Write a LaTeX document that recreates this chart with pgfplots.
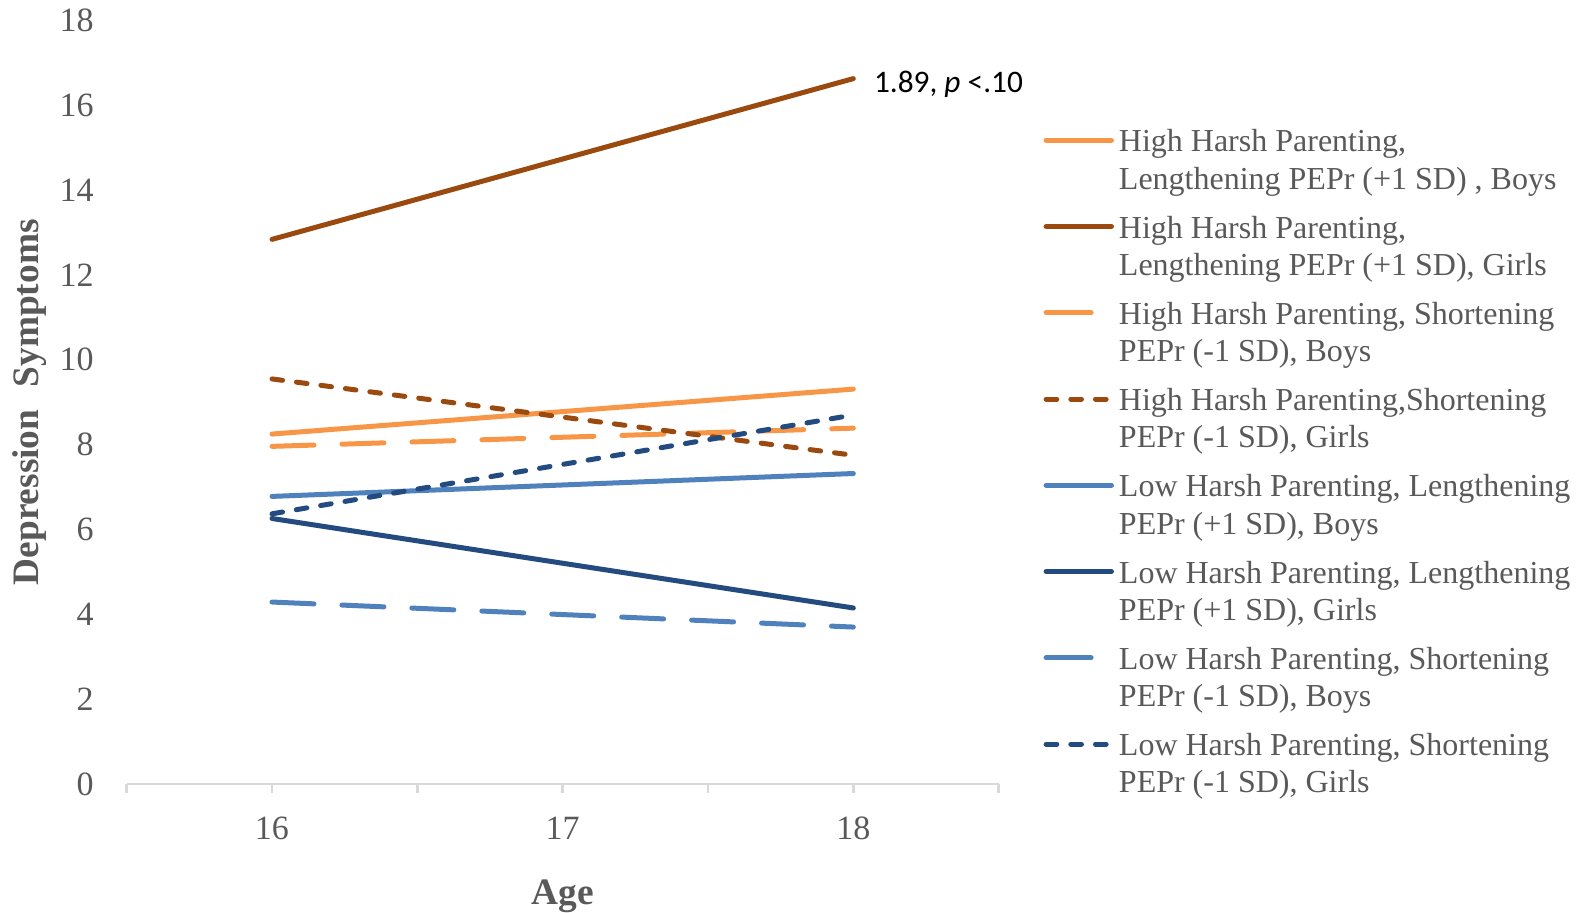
\documentclass[border=0pt]{standalone}
\usepackage{pgfplots}
\pgfplotsset{compat=1.18}
\usepackage{fontspec}
\setmainfont{Liberation Serif}
\newfontfamily\calibri{Carlito}

\definecolor{hhOrange}{HTML}{F79646}
\definecolor{hhBrown}{HTML}{9A4A0E}
\definecolor{lhBlue}{HTML}{4F81BD}
\definecolor{lhNavy}{HTML}{234B7F}
\definecolor{txtGray}{HTML}{595959}
\definecolor{axGray}{HTML}{D9D9D9}

\pgfplotsset{
  longdash/.style={dash pattern=on 12.6pt off 8.4pt},
  shortdash/.style={dash pattern=on 3.2pt off 4.2pt},
  % a long-dash series shows a single dash in the legend
  onedash/.style={legend image code/.code={\draw[##1,solid] (0.75pt,6.5pt) -- (14.25pt,6.5pt);}},
}

\begin{document}
\begin{tikzpicture}
\useasboundingbox (-38.0pt,-38.4pt) rectangle (435.1pt,235.2pt);
\begin{axis}[
  scale only axis,
  width=261.6pt, height=229.05pt,
  xmin=15.5, xmax=18.5,
  ymin=0, ymax=18,
  clip=false,
  axis x line*=bottom,
  axis y line*=left,
  x axis line style={draw=axGray, line width=0.75pt},
  y axis line style={draw=none},
  ytick={0,2,...,18},
  ytick style={draw=none},
  yticklabel style={font=\fontsize{10.2}{12}\selectfont, text=txtGray, xshift=-3.7pt},
  /pgf/number format/assume math mode=true,
  xtick={15.5,16.5,17.5,18.5},
  xticklabels={},
  tick align=outside,
  major tick length=2.7pt,
  xtick style={draw=axGray, line width=0.75pt},
  extra x ticks={16,17,18},
  extra x tick labels={16,17,18},
  extra x tick style={tick style={draw=none}},
  xticklabel style={font=\fontsize{10.2}{12}\selectfont, text=txtGray, yshift=-3.6pt},
  xlabel={Age},
  xlabel style={at={(axis description cs:0.5,0)}, anchor=center, yshift=-33.6pt,
    font=\fontsize{11.2}{13}\selectfont\bfseries, text=txtGray},
  ylabel={Depression\hspace{0.6em}Symptoms},
  ylabel style={at={(axis description cs:0,0.5)}, anchor=center, yshift=29pt,
    font=\fontsize{11.2}{13}\selectfont\bfseries, text=txtGray},
  every axis plot/.append style={line width=1.5pt, line cap=round, no markers},
  legend cell align=left,
  legend image code/.code={\draw[#1] (0.75pt,6.5pt) -- (20.35pt,6.5pt);},
  legend style={
    at={(1.0508,0.8579)}, anchor=north west,
    draw=none, fill=none, inner sep=0pt,
    font=\fontsize{9.6}{11.16}\selectfont, text=txtGray,
    row sep=6.56pt,
    nodes={inner xsep=0pt, inner ysep=0pt},
    cells={align=left},
    /tikz/every odd column/.append style={column sep=1.5pt},
  },
]
% High harsh parenting
\addplot[hhOrange] coordinates {(16,8.25) (18,9.31)};
\addlegendentry{High Harsh Parenting,\\Lengthening PEPr (+1 SD) , Boys}
\addplot[hhBrown] coordinates {(16,12.84) (18,16.63)};
\addlegendentry{High Harsh Parenting,\\Lengthening PEPr (+1 SD), Girls}
\addplot[hhOrange, longdash, onedash] coordinates {(16,7.96) (18,8.39)};
\addlegendentry{High Harsh Parenting, Shortening\\PEPr (-1 SD), Boys}
\addplot[hhBrown, shortdash] coordinates {(16,9.55) (18,7.75)};
\addlegendentry{High Harsh Parenting,Shortening\\PEPr (-1 SD), Girls}
% Low harsh parenting
\addplot[lhBlue] coordinates {(16,6.78) (18,7.32)};
\addlegendentry{Low Harsh Parenting, Lengthening\\PEPr (+1 SD), Boys}
\addplot[lhNavy] coordinates {(16,6.26) (18,4.15)};
\addlegendentry{Low Harsh Parenting, Lengthening\\PEPr (+1 SD), Girls}
\addplot[lhBlue, longdash, onedash] coordinates {(16,4.29) (18,3.70)};
\addlegendentry{Low Harsh Parenting, Shortening\\PEPr (-1 SD), Boys}
\addplot[lhNavy, shortdash] coordinates {(16,6.37) (18,8.70)};
\addlegendentry{Low Harsh Parenting, Shortening\\PEPr (-1 SD), Girls}
% slope of the high-harsh, lengthening, girls line
\node[anchor=west, inner sep=0pt, xshift=6pt, yshift=-1.8pt,
  font=\calibri\fontsize{9.4}{11}\selectfont, text=black]
  at (axis cs:18,16.63) {1.89, \textit{p} <.10};
\end{axis}
\end{tikzpicture}
\end{document}
